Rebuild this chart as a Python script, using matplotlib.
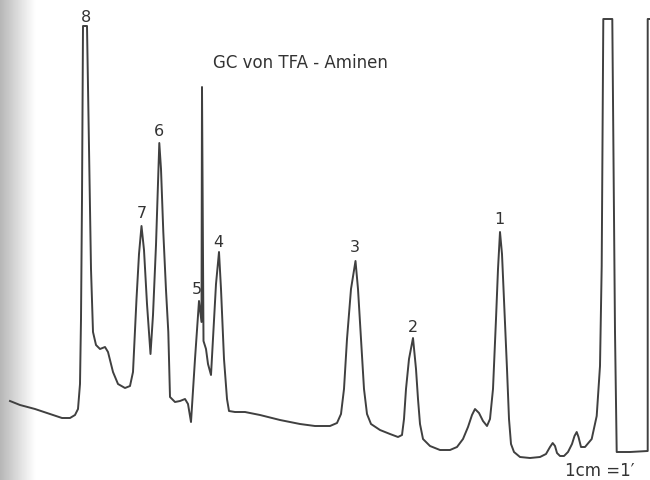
import matplotlib.pyplot as plt
import numpy as np

# chromatogram trace: retention position (mm on the chart)
# and detector signal (height above the bottom edge)
t = [10, 20, 35, 50, 62, 70, 75, 78, 80, 81, 82, 83, 87, 89, 91, 93, 96,
     100, 105, 108, 113, 118, 125, 130, 133, 136.5, 139, 141.5, 144, 147,
     150.5, 153, 156, 159.3, 161, 163.3, 166, 168.3, 170, 175, 180, 185,
     188, 191, 195, 199, 201.5, 202, 203.5, 206, 208, 211, 213, 216, 219,
     221, 224, 227, 229, 235, 245, 260, 280, 300, 315, 330, 337, 341, 344,
     347, 351, 355.5, 358, 361, 364, 367, 371, 380, 390, 398, 402, 404, 406,
     409, 413, 416, 418, 420, 423, 430, 440, 450, 457, 463, 468, 472, 475,
     479, 483, 487, 490, 493, 496, 498, 500, 502, 504, 507, 509, 511, 514,
     520, 530, 540, 546, 550, 552.7, 555, 557, 560, 564, 568, 572, 574.5,
     576.7, 578.5, 581, 585, 591.7, 596.7, 600, 601.7, 603.3, 612.3, 613.3,
     615, 616.7, 630, 647.7, 647.7, 652]
signal = [79, 75, 71, 66, 62, 62, 65, 71, 96, 161, 281, 454, 454, 331, 211,
          148, 135, 131, 133, 128, 108, 96, 92, 94, 108, 181, 226, 254, 230,
          176, 126, 165, 235, 337, 311, 248, 190, 148, 83, 78, 79, 81, 76, 58,
          121, 179, 158, 393, 139, 131, 116, 105, 141, 196, 228, 191, 121, 81,
          69, 68, 68, 65, 60, 56, 54, 54, 57, 66, 91, 141, 191, 219, 191, 141,
          91, 66, 56, 50, 46, 43, 45, 61, 91, 121, 142, 111, 81, 56, 41, 34,
          30, 30, 33, 41, 53, 65, 71, 67, 59, 54, 61, 91, 161, 211, 248, 226,
          181, 111, 61, 36, 28, 23, 22, 23, 26, 33, 37, 34, 27, 24, 24, 28, 36,
          44, 48, 43, 33, 33, 41, 64, 114, 214, 461, 461, 348, 148, 28, 28, 29,
          461, 461]

peak_labels = ['8', '7', '6', '5', '4', '3', '2', '1']
label_t = [86, 142, 159, 197, 218, 355, 413, 499]
label_signal = [463, 267, 350, 191, 238, 233, 154, 262]

title = 'GC von TFA - Aminen'
scale_note = '1cm =1\u2032'

fig = plt.figure(figsize=(6.5, 4.81), dpi=100)
ax = fig.add_axes([0, 0, 1, 1])

# greyish shading at the left edge of the scanned page
shade = np.linspace(0.62, 1.0, 40) ** 0.7
ax.imshow(np.tile(shade, (2, 1)), cmap='gray', vmin=0, vmax=1,
          extent=(0, 36, 0, 481), aspect='auto', zorder=0)

ax.plot(t, signal, color='#404040', lw=1.4, solid_joinstyle='round', zorder=2)

for lab, x, y in zip(peak_labels, label_t, label_signal):
    ax.text(x, y, lab, ha='center', va='center', fontsize=11.5,
            color='#333333', family='DejaVu Sans')

ax.text(300, 418, title, ha='center', va='center', fontsize=12,
        color='#333333', family='DejaVu Sans')
ax.text(600, 10, scale_note, ha='center', va='center', fontsize=12,
        color='#333333', family='DejaVu Sans')

ax.set_xlim(0, 650)
ax.set_ylim(0, 481)
ax.axis('off')

fig.savefig('out.png', dpi=100)
